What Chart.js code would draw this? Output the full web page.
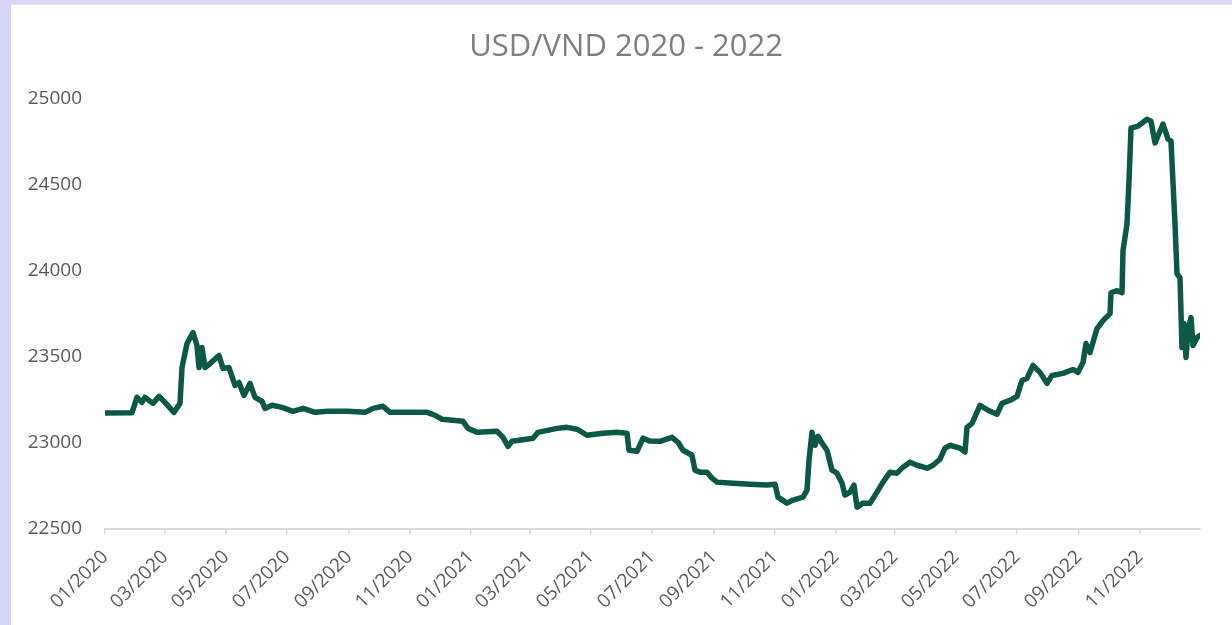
<!DOCTYPE html>
<html>
<head>
<meta charset="utf-8">
<title>USD/VND 2020 - 2022</title>
<script src="https://cdn.jsdelivr.net/npm/chart.js@4/dist/chart.umd.min.js"></script>
<style>
    html, body { margin: 0; padding: 0; }
    body { background: #d6d6f8; width: 1232px; height: 625px; overflow: hidden; position: relative; }
    #panel { position: absolute; left: 11px; top: 4px; width: 1230px; height: 621px; background: #fff; border-top: 1px solid #e4e4ec; box-sizing: border-box; }
</style>
</head>
<body>
<div id="panel"><canvas id="rateChart"></canvas></div>
<script>
// days counted from 01/01/2020
const days = [0, 27, 32, 37, 40, 48, 54, 60, 69, 75, 77, 82, 88, 92, 94, 97, 100, 105, 114, 118,
    124, 130, 134, 139, 145, 150, 157, 160, 167, 177, 188, 198, 210, 223, 243, 260, 268, 278, 285, 305,
    322, 330, 337, 358, 363, 372, 392, 398, 403, 407, 428, 433, 452, 462, 472, 482, 498, 512, 522, 524,
    532, 538, 545, 555, 567, 573, 578, 587, 590, 595, 602, 607, 612, 628, 645, 662, 670, 673, 682, 688,
    698, 702, 704, 707, 710, 713, 717, 722, 727, 732, 737, 740, 745, 749, 752, 758, 765, 772, 778, 785,
    792, 798, 805, 812, 822, 828, 835, 840, 845, 855, 860, 862, 867, 875, 883, 892, 897, 905, 912, 917,
    922, 928, 935, 942, 947, 958, 968, 973, 978, 981, 985, 992, 998, 1005, 1006, 1012, 1017, 1018, 1022, 1024,
    1026, 1033, 1042, 1046, 1050, 1058, 1063, 1066, 1070, 1072, 1075, 1077, 1079, 1081, 1083, 1086, 1088, 1092, 1095];

const usdVnd = [23173, 23175, 23264, 23235, 23264, 23229, 23270, 23235, 23177, 23229, 23437, 23576, 23640, 23565, 23437, 23553, 23437, 23460, 23507, 23432,
    23437, 23333, 23350, 23275, 23345, 23264, 23241, 23200, 23218, 23206, 23183, 23200, 23177, 23183, 23183, 23177, 23200, 23212, 23177, 23177,
    23177, 23160, 23137, 23125, 23084, 23061, 23067, 23032, 22980, 23009, 23027, 23061, 23084, 23090, 23079, 23044, 23056, 23061, 23056, 22957,
    22951, 23027, 23010, 23009, 23032, 23003, 22957, 22928, 22841, 22830, 22830, 22795, 22772, 22766, 22760, 22755, 22760, 22685, 22650, 22668,
    22685, 22726, 22899, 23061, 22986, 23038, 22998, 22957, 22841, 22824, 22766, 22697, 22714, 22755, 22627, 22650, 22650, 22714, 22772, 22830,
    22824, 22859, 22888, 22870, 22853, 22870, 22905, 22969, 22986, 22969, 22946, 23090, 23113, 23218, 23189, 23166, 23229, 23247, 23270, 23362,
    23374, 23449, 23409, 23345, 23391, 23403, 23426, 23409, 23466, 23576, 23524, 23663, 23709, 23750, 23871, 23883, 23871, 24115, 24271, 24520,
    24826, 24838, 24878, 24867, 24740, 24850, 24763, 24751, 24271, 23981, 23958, 23553, 23692, 23495, 23652, 23727, 23565, 23611, 23623];

// first day of every second month
const tickDays = [0, 60, 121, 182, 244, 305, 366, 425, 486, 547, 609, 670, 731, 790, 851, 912, 974, 1035];
const tickLabels = ['01/2020', '03/2020', '05/2020', '07/2020', '09/2020', '11/2020',
    '01/2021', '03/2021', '05/2021', '07/2021', '09/2021', '11/2021',
    '01/2022', '03/2022', '05/2022', '07/2022', '09/2022', '11/2022'];

const points = days.map((d, i) => ({ x: d, y: usdVnd[i] }));
const labelFont = { family: "'Open Sans', sans-serif", size: 19 };

new Chart(document.getElementById('rateChart'), {
    type: 'line',
    data: {
        datasets: [{
            label: 'USD/VND',
            data: points,
            borderColor: '#0c5846',
            borderWidth: 5.5,
            borderJoinStyle: 'round',
            borderCapStyle: 'round',
            pointRadius: 0,
            tension: 0,
            fill: false
        }]
    },
    options: {
        responsive: true,
        maintainAspectRatio: false,
        animation: false,
        layout: { padding: 0 },
        plugins: {
            legend: { display: false },
            tooltip: { enabled: false },
            title: {
                display: true,
                text: 'USD/VND 2020 - 2022',
                color: '#7f7f7f',
                font: { family: "'Open Sans', sans-serif", size: 31, weight: 'normal' },
                padding: { top: 24, bottom: 32 }
            }
        },
        scales: {
            x: {
                type: 'linear',
                min: 0,
                max: 1095,
                afterBuildTicks: scale => {
                    scale.ticks = tickDays.map(v => ({ value: v }));
                },
                afterFit: scale => { scale.height = 96; },
                ticks: {
                    autoSkip: false,
                    minRotation: 45,
                    maxRotation: 45,
                    padding: 12,
                    color: '#595959',
                    font: labelFont,
                    callback: (v) => tickLabels[tickDays.indexOf(v)]
                },
                grid: { drawOnChartArea: false, tickLength: 5, color: '#d9d9d9', lineWidth: 1.5 },
                border: { color: '#d9d9d9', width: 2 }
            },
            y: {
                min: 22500,
                max: 25000,
                afterFit: scale => { scale.width = 94; },
                ticks: {
                    stepSize: 500,
                    padding: 23,
                    color: '#595959',
                    font: labelFont,
                    callback: v => String(v)
                },
                grid: { display: false, drawTicks: false },
                border: { display: false }
            },
            // empty right axis, only keeps white space right of the plot
            spacer: {
                position: 'right',
                min: 0,
                max: 1,
                afterFit: scale => { scale.width = 41; },
                ticks: { display: false },
                grid: { display: false, drawTicks: false },
                border: { display: false }
            }
        }
    }
});
</script>
</body>
</html>
